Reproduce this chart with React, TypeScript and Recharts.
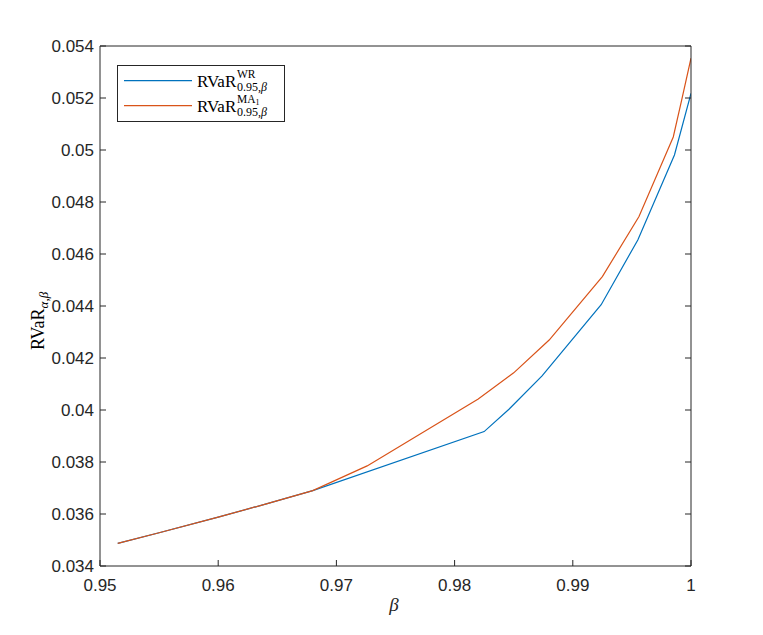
import React from 'react';
import { LineChart, Line, XAxis, YAxis } from 'recharts';

// beta grid + RVaR values
const betaWR = [0.9515, 0.955, 0.96, 0.964, 0.968, 0.9825, 0.9846, 0.9874, 0.9924, 0.9955, 0.9986, 1.0];
const rvarWR = [0.03487, 0.03528, 0.03588, 0.03638, 0.0369, 0.03917, 0.04003, 0.04131, 0.04405, 0.04654, 0.04981, 0.05218];

const betaMA = [0.9515, 0.955, 0.96, 0.964, 0.968, 0.9726, 0.982, 0.985, 0.988, 0.9925, 0.9956, 0.9985, 0.9992, 1.0];
const rvarMA = [0.03487, 0.03528, 0.03588, 0.03638, 0.0369, 0.03785, 0.04042, 0.04143, 0.04269, 0.04513, 0.04744, 0.0505, 0.0519, 0.05353];

const xTicks = [0.95, 0.96, 0.97, 0.98, 0.99, 1];
const yTicks = [0.034, 0.036, 0.038, 0.04, 0.042, 0.044, 0.046, 0.048, 0.05, 0.052, 0.054];

const wrData = betaWR.map((b, i) => ({ beta: b, v: rvarWR[i] }));
const maData = betaMA.map((b, i) => ({ beta: b, v: rvarMA[i] }));

const BLUE = '#0072BD';
const ORANGE = '#D95319';
const AXIS = '#262626';
const SANS = '"Liberation Sans", Arial, Helvetica, sans-serif';
const SERIF = '"Liberation Serif", "DejaVu Serif", serif';

const fmt = (v: number) => String(Number(v.toFixed(3)));

// MATLAB-style ticks pointing into the plot box
const Tick = (props: any) => {
  const { x, y, payload, side } = props;
  const len = 6;
  if (side === 'left') {
    return (
      <g>
        <line x1={x} x2={x + len} y1={y} y2={y} stroke={AXIS} />
        <text x={x - 6} y={y} dy={6} textAnchor="end" fontSize={17} fontFamily={SANS} fill={AXIS}>
          {fmt(payload.value)}
        </text>
      </g>
    );
  }
  if (side === 'bottom') {
    return (
      <g>
        <line x1={x} x2={x} y1={y} y2={y - len} stroke={AXIS} />
        <text x={x} y={y + 25} textAnchor="middle" fontSize={17} fontFamily={SANS} fill={AXIS}>
          {fmt(payload.value)}
        </text>
      </g>
    );
  }
  if (side === 'right') {
    return <line x1={x} x2={x - len} y1={y} y2={y} stroke={AXIS} />;
  }
  return <line x1={x} x2={x} y1={y} y2={y + len} stroke={AXIS} />;
};

const LegendBox = () => (
  <svg width={168} height={57} style={{ position: 'absolute', left: 117, top: 65 }}>
    <rect x={0.5} y={0.5} width={167} height={56} fill="#fff" stroke={AXIS} />
    <line x1={7} x2={75} y1={15.7} y2={15.7} stroke={BLUE} strokeWidth={1.2} />
    <line x1={7} x2={75} y1={40.7} y2={40.7} stroke={ORANGE} strokeWidth={1.2} />
    <text x={80} y={22} fontSize={17} fontFamily={SERIF} fill="#000">RVaR</text>
    <text x={120} y={12.5} fontSize={11.5} fontFamily={SERIF} fill="#000">WR</text>
    <text x={120} y={26} fontSize={12} fontFamily={SERIF} fill="#000">
      0.95,<tspan fontStyle="italic">β</tspan>
    </text>
    <text x={80} y={47} fontSize={17} fontFamily={SERIF} fill="#000">RVaR</text>
    <text x={120} y={37.5} fontSize={11.5} fontFamily={SERIF} fill="#000">
      MA<tspan fontSize={8} dy={2}>1</tspan>
    </text>
    <text x={120} y={51} fontSize={12} fontFamily={SERIF} fill="#000">
      0.95,<tspan fontStyle="italic">β</tspan>
    </text>
  </svg>
);

export default function App() {
  return (
    <div style={{ position: 'absolute', left: 0, top: 0, width: 763, height: 635, background: '#fff' }}>
      <LineChart width={763} height={635} margin={{ top: 45, right: 71, bottom: 68, left: 99 }}>
        <XAxis
          dataKey="beta"
          type="number"
          domain={[0.95, 1]}
          ticks={xTicks}
          height={1}
          tickSize={0}
          tickMargin={0}
          stroke={AXIS}
          allowDataOverflow
          tick={(p: any) => <Tick {...p} side="bottom" />}
          label={{
            content: () => (
              <text x={394} y={611} textAnchor="middle" fontSize={19} fontStyle="italic" fontFamily={SERIF} fill={AXIS}>
                β
              </text>
            ),
          }}
        />
        <XAxis
          xAxisId="top"
          orientation="top"
          type="number"
          domain={[0.95, 1]}
          ticks={xTicks}
          height={1}
          tickSize={0}
          tickMargin={0}
          stroke={AXIS}
          allowDataOverflow
          tick={(p: any) => <Tick {...p} side="top" />}
        />
        <YAxis
          type="number"
          domain={[0.034, 0.054]}
          ticks={yTicks}
          width={1}
          tickSize={0}
          tickMargin={0}
          stroke={AXIS}
          allowDataOverflow
          tick={(p: any) => <Tick {...p} side="left" />}
          label={{
            content: () => (
              <text
                x={44}
                y={350}
                transform="rotate(-90, 44, 350)"
                textAnchor="start"
                fontSize={18}
                fontFamily={SERIF}
                fill="#000"
              >
                RVaR
                <tspan fontSize={13} dy={4} fontStyle="italic">α,β</tspan>
              </text>
            ),
          }}
        />
        <YAxis
          yAxisId="right"
          orientation="right"
          type="number"
          domain={[0.034, 0.054]}
          ticks={yTicks}
          width={1}
          tickSize={0}
          tickMargin={0}
          stroke={AXIS}
          allowDataOverflow
          tick={(p: any) => <Tick {...p} side="right" />}
        />
        <Line
          data={wrData}
          dataKey="v"
          type="linear"
          stroke={BLUE}
          strokeWidth={1.2}
          dot={false}
          isAnimationActive={false}
        />
        <Line
          data={maData}
          dataKey="v"
          type="linear"
          stroke={ORANGE}
          strokeWidth={1.2}
          dot={false}
          isAnimationActive={false}
        />
      </LineChart>
      <LegendBox />
    </div>
  );
}
